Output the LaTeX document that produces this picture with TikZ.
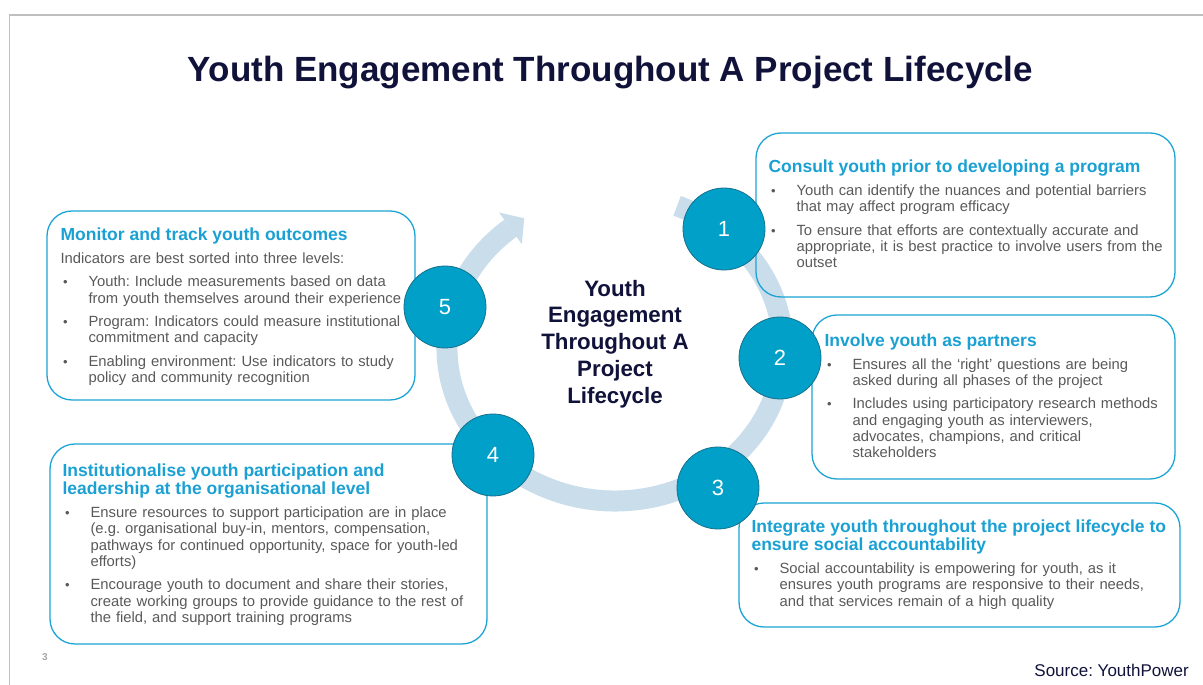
\documentclass[tikz,border=0pt]{standalone}
\usepackage{fontspec}
\setmainfont{Liberation Sans}
\usetikzlibrary{arrows.meta}
\definecolor{navy}{HTML}{10123A}
\definecolor{cardline}{HTML}{1BA3D6}
\definecolor{headblue}{HTML}{1AA0D2}
\definecolor{bodygray}{HTML}{595959}
\definecolor{ringblue}{HTML}{C9DDEB}
\definecolor{dotfill}{HTML}{00A0C8}
\definecolor{dotedge}{HTML}{17708C}
\newcommand{\headf}{\fontsize{17.5}{18.3}\selectfont\bfseries\color{headblue}}
\newcommand{\bul}[1]{\par\hangindent=28pt\hangafter=1\noindent\makebox[28pt][l]{\hspace{2.5pt}{\fontsize{13}{13}\selectfont\textbullet}}#1\par}

\begin{document}
\frenchspacing
\begin{tikzpicture}[x=1pt,y=1pt,
  card/.style={draw=cardline,line width=1.3pt,rounded corners=25pt,inner sep=0pt},
  txt/.style={anchor=base west,inner sep=0pt,text width=460pt,align=left,text=bodygray,font=\fontsize{14.8}{16.3}\selectfont},
  num/.style={circle,fill=dotfill,draw=dotedge,line width=0.8pt,minimum size=82pt,inner sep=0pt,text=white,font=\fontsize{22}{22}\selectfont}]
\useasboundingbox (0,0) rectangle (1203,685);
\draw[gray!50,line width=1.5pt] (9.5,0) -- (9.5,670) -- (1203,670);
\node[font=\fontsize{35}{40}\selectfont\bfseries,text=navy,anchor=base] (title) at (610.5,603.5) {Youth Engagement Throughout A Project Lifecycle};

% cycle
\coordinate (hubc) at (615,337);
\draw[ringblue,line width=21pt] (hubc) ++(68.3:168 and 153) arc[start angle=68.3,end angle=-231.5,x radius=168,y radius=153];
\fill[ringblue] (499,472.5) -- (524.2,466.7) -- (521.8,440.9) -- cycle;
\node[font=\fontsize{22.3}{26.8}\selectfont\bfseries,text=navy,align=center] (hub) at (615,341) {Youth\\Engagement\\Throughout A\\Project\\Lifecycle};

% cards
\node[card,minimum width=419pt,minimum height=164pt] (consult) at (965.5,470) {};
\node[card,minimum width=363pt,minimum height=164pt] (partners) at (993.5,288) {};
\node[card,minimum width=441pt,minimum height=124pt] (integrate) at (959.5,120) {};
\node[card,minimum width=437pt,minimum height=200pt] (institution) at (268.5,141) {};
\node[card,minimum width=368pt,minimum height=189pt] (monitor) at (231,379.5) {};

\node[num] (n1) at (724,456) {1};
\node[num] (n2) at (780,327) {2};
\node[num] (n3) at (718,197) {3};
\node[num] (n4) at (493,230) {4};
\node[num] (n5) at (445,378) {5};

\node[txt] (consult-t) at ([shift={(13,-40)}]consult.north west) {\parskip=7pt\noindent{\headf Consult youth prior to developing a program\par}%
  \bul{Youth can identify the nuances and potential barriers\newline that may affect program efficacy}%
  \bul{To ensure that efforts are contextually accurate and\newline appropriate, it is best practice to involve users from the\newline outset}};
\node[txt] (partners-t) at ([shift={(13,-31.7)}]partners.north west) {\parskip=7pt\noindent{\headf Involve youth as partners\par}%
  \bul{Ensures all the ‘right’ questions are being\newline asked during all phases of the project}%
  \bul{Includes using participatory research methods\newline and engaging youth as interviewers,\newline advocates, champions, and critical\newline stakeholders}};
\node[txt] (integrate-t) at ([shift={(13,-29.7)}]integrate.north west) {\parskip=7pt\noindent{\headf Integrate youth throughout the project lifecycle to\newline ensure social accountability\par}%
  \bul{Social accountability is empowering for youth, as it\newline ensures youth programs are responsive to their needs,\newline and that services remain of a high quality}};
\node[txt] (institution-t) at ([shift={(13,-32.7)}]institution.north west) {\parskip=7pt\noindent{\headf Institutionalise youth participation and\newline leadership at the organisational level\par}%
  \bul{Ensure resources to support participation are in place\newline (e.g. organisational buy-in, mentors, compensation,\newline pathways for continued opportunity, space for youth-led\newline efforts)}%
  \bul{Encourage youth to document and share their stories,\newline create working groups to provide guidance to the rest of\newline the field, and support training programs}};
\node[txt] (monitor-t) at ([shift={(14,-30)}]monitor.north west) {\parskip=7pt\noindent{\headf Monitor and track youth outcomes\par}%
  \noindent Indicators are best sorted into three levels:\par
  \bul{Youth: Include measurements based on data\newline from youth themselves around their experience}%
  \bul{Program: Indicators could measure institutional\newline commitment and capacity}%
  \bul{Enabling environment: Use indicators to study\newline policy and community recognition}};

\node[font=\fontsize{10}{11}\selectfont\bfseries,text=gray!70] (page) at (45,28) {3};
\node[font=\fontsize{17}{20}\selectfont,text=navy,anchor=base east,inner sep=0pt] (source) at (1189,8.3) {Source: YouthPower};
\end{tikzpicture}
\end{document}
